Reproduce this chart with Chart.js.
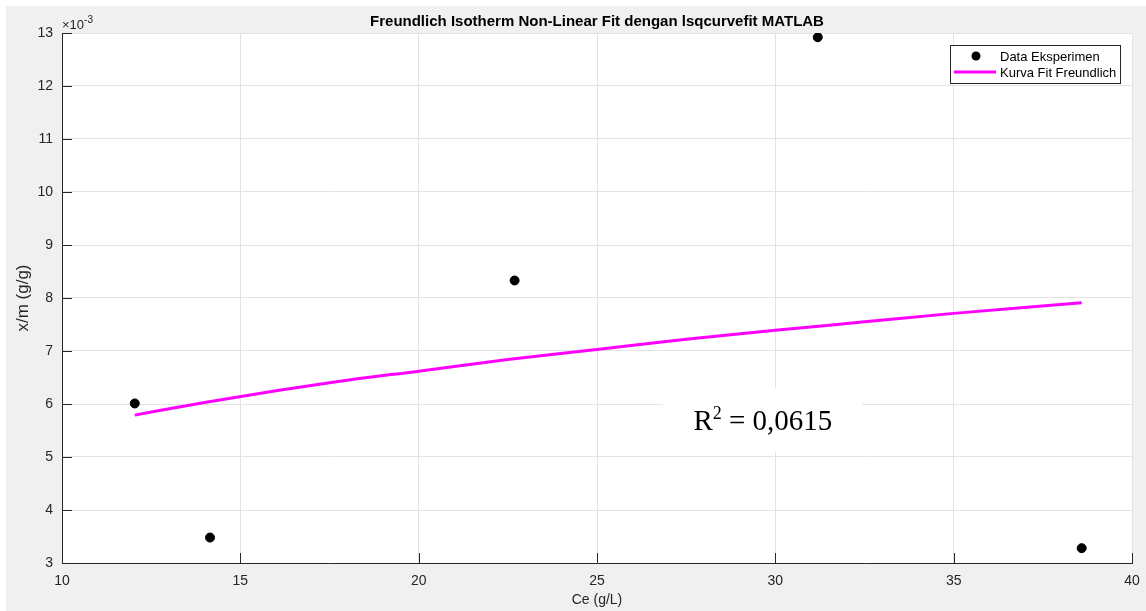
<!DOCTYPE html>
<html>
<head>
<meta charset="utf-8">
<script src="https://cdn.jsdelivr.net/npm/chart.js@4.4.1/dist/chart.umd.min.js"></script>
<style>
  html, body { margin: 0; padding: 0; background: #fff; }
  #c { display: block; }
</style>
</head>
<body>
<canvas id="c" width="1146" height="611"></canvas>
<script>
// experimental points (Ce in g/L, x/m in g/g)
const ceData = [12.04, 14.15, 22.69, 31.19, 38.59];
const qeData = [0.00601, 0.00348, 0.00833, 0.01292, 0.00328];

// fitted Freundlich curve
const ceFit = [12.04, 14, 16, 18, 20, 22.5, 25, 27.5, 30, 32.5, 35, 38.59];
const qeFit = [0.00579, 0.00603, 0.00625, 0.00645, 0.00662, 0.00684, 0.00703, 0.00722, 0.00739, 0.00755, 0.00771, 0.00791];

const xTicks = [10, 15, 20, 25, 30, 35, 40];
const yTicks = [3, 4, 5, 6, 7, 8, 9, 10, 11, 12, 13]; // x 10^-3

const r2Text = "0,0615";
const r2Pos = { x: 29.65, y: 0.00570 };

const axisColor = "#262626";
const gridColor = "#e3e3e3";
const font = '"Liberation Sans", Arial, sans-serif';

const bgPlugin = {
  id: "bg",
  beforeDraw(chart) {
    const { ctx, width, height, chartArea: a } = chart;
    ctx.save();
    ctx.fillStyle = "#fff";
    ctx.fillRect(0, 0, width, height);
    ctx.fillStyle = "#f0f0f0";
    ctx.fillRect(6, 6, width - 6, height - 6);
    ctx.fillStyle = "#fff";
    ctx.fillRect(a.left, a.top, a.right - a.left, a.bottom - a.top);
    ctx.restore();
  }
};

const extrasPlugin = {
  id: "extras",
  afterDraw(chart) {
    const { ctx, chartArea: a, scales } = chart;
    ctx.save();

    // inward tick marks
    ctx.strokeStyle = axisColor;
    ctx.lineWidth = 1;
    ctx.beginPath();
    scales.x.ticks.forEach(t => {
      const px = Math.round(scales.x.getPixelForValue(t.value)) + 0.5;
      ctx.moveTo(px, a.bottom);
      ctx.lineTo(px, a.bottom - 10);
    });
    scales.y.ticks.forEach(t => {
      const py = Math.round(scales.y.getPixelForValue(t.value)) + 0.5;
      ctx.moveTo(a.left, py);
      ctx.lineTo(a.left + 10, py);
    });
    ctx.stroke();

    // exponent label
    ctx.fillStyle = axisColor;
    ctx.textBaseline = "alphabetic";
    ctx.textAlign = "left";
    ctx.font = "13px " + font;
    ctx.fillText("\u00d710", a.left, a.top - 4);
    const w = ctx.measureText("\u00d710").width;
    ctx.font = "10px " + font;
    ctx.fillText("-3", a.left + w, a.top - 10);

    // R^2 annotation
    const cx = scales.x.getPixelForValue(r2Pos.x);
    const cy = scales.y.getPixelForValue(r2Pos.y);
    ctx.fillStyle = "#fff";
    ctx.fillRect(cx - 100, cy - 32, 199, 64);
    const big = '29px "Liberation Serif", "Times New Roman", serif';
    const small = '18px "Liberation Serif", "Times New Roman", serif';
    const rest = " = " + r2Text;
    ctx.font = big;
    const wR = ctx.measureText("R").width;
    const wRest = ctx.measureText(rest).width;
    ctx.font = small;
    const w2 = ctx.measureText("2").width;
    let x0 = cx - (wR + w2 + wRest) / 2;
    const base = cy + 10;
    ctx.fillStyle = "#000";
    ctx.font = big;
    ctx.fillText("R", x0, base);
    ctx.font = small;
    ctx.fillText("2", x0 + wR, base - 11);
    ctx.font = big;
    ctx.fillText(rest, x0 + wR + w2, base);

    // legend box
    const ds = chart.data.datasets;
    const lx = a.right - 182, ly = a.top + 12, lw = 170, lh = 38;
    ctx.fillStyle = "#fff";
    ctx.fillRect(lx, ly, lw, lh);
    ctx.strokeStyle = axisColor;
    ctx.lineWidth = 1;
    ctx.strokeRect(lx + 0.5, ly + 0.5, lw, lh);
    ctx.font = "13px " + font;
    ctx.textBaseline = "middle";
    ctx.fillStyle = "#000";
    ctx.beginPath();
    ctx.arc(lx + 26, ly + 11, 4.5, 0, Math.PI * 2);
    ctx.fill();
    ctx.fillText(ds[0].label, lx + 50, ly + 12);
    ctx.strokeStyle = ds[1].borderColor;
    ctx.lineWidth = 3;
    ctx.beginPath();
    ctx.moveTo(lx + 4, ly + 27);
    ctx.lineTo(lx + 46, ly + 27);
    ctx.stroke();
    ctx.fillText(ds[1].label, lx + 50, ly + 28);

    ctx.restore();
  }
};

new Chart(document.getElementById("c"), {
  type: "scatter",
  data: {
    datasets: [
      {
        label: "Data Eksperimen",
        data: ceData.map((x, i) => ({ x, y: qeData[i] })),
        backgroundColor: "#000",
        borderColor: "#000",
        pointRadius: 4.5,
        pointHoverRadius: 4.5,
        showLine: false,
        order: 1
      },
      {
        label: "Kurva Fit Freundlich",
        data: ceFit.map((x, i) => ({ x, y: qeFit[i] })),
        borderColor: "#ff00ff",
        backgroundColor: "#ff00ff",
        borderWidth: 3,
        pointRadius: 0,
        showLine: true,
        cubicInterpolationMode: "monotone",
        order: 2
      }
    ]
  },
  options: {
    responsive: false,
    animation: false,
    layout: { padding: { left: 6, right: 14, top: 0, bottom: 0 } },
    plugins: {
      legend: { display: false },
      tooltip: { enabled: false },
      title: {
        display: true,
        fullSize: false,
        text: "Freundlich Isotherm Non-Linear Fit dengan lsqcurvefit MATLAB",
        color: "#000",
        font: { family: font, size: 15, weight: "bold" },
        padding: { top: 13, bottom: 2 }
      }
    },
    scales: {
      x: {
        type: "linear",
        min: xTicks[0],
        max: xTicks[xTicks.length - 1],
        afterBuildTicks: s => { s.ticks = xTicks.map(v => ({ value: v })); },
        afterFit: s => { s.height = 48; s.paddingLeft = 0; s.paddingRight = 0; },
        grid: { color: gridColor, drawTicks: false },
        border: { color: axisColor, width: 1 },
        ticks: { color: axisColor, padding: 10, font: { family: font, size: 14 } },
        title: {
          display: true, text: "Ce (g/L)", color: axisColor,
          font: { family: font, size: 14 }, padding: { top: 0, bottom: 2 }
        }
      },
      y: {
        type: "linear",
        min: yTicks[0] / 1000,
        max: yTicks[yTicks.length - 1] / 1000,
        afterBuildTicks: s => { s.ticks = yTicks.map(v => ({ value: v / 1000 })); },
        afterFit: s => { s.width = 56; },
        grid: { color: gridColor, drawTicks: false },
        border: { color: axisColor, width: 1 },
        ticks: {
          color: axisColor, padding: 9, font: { family: font, size: 14 },
          callback: v => String(Math.round(v * 1000))
        },
        title: {
          display: true, text: "x/m (g/g)", color: axisColor,
          font: { family: font, size: 17 }, padding: { top: 7, bottom: 0 }
        }
      }
    }
  },
  plugins: [bgPlugin, extrasPlugin]
});
</script>
</body>
</html>
